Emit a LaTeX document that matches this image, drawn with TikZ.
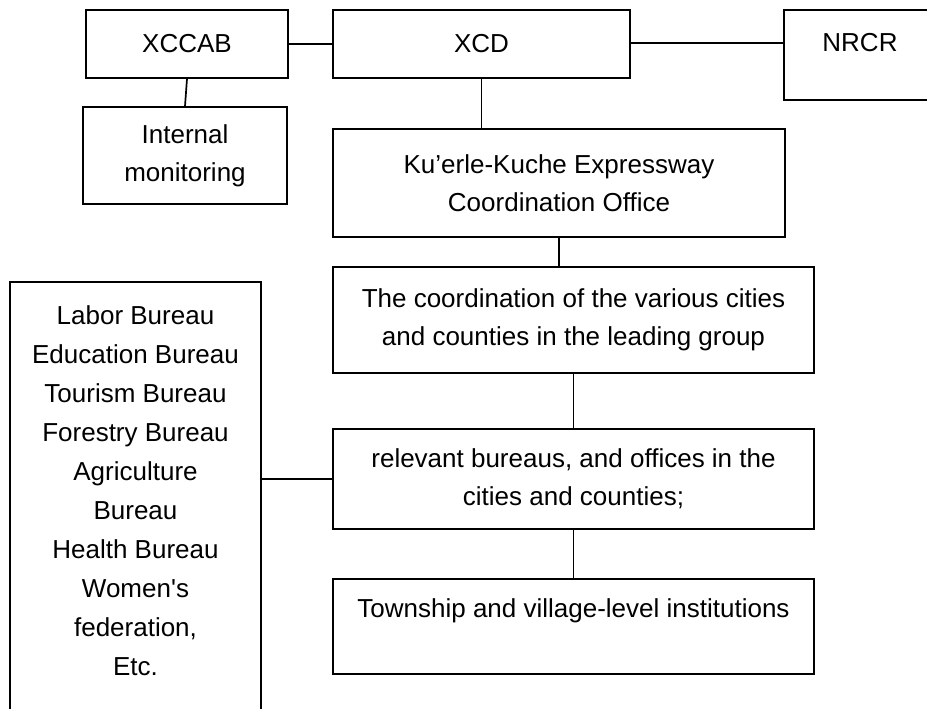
\documentclass[tikz,border=0pt]{standalone}
\usepackage{fontspec}
\newfontfamily\arialish{Liberation Sans}
\begin{document}
\begin{tikzpicture}[x=1pt,y=-1pt,
  box/.style={draw, line width=1.7pt, rectangle, align=center, inner sep=0pt,
    font=\arialish\fontsize{26}{38}\selectfont},
  txt/.style={align=center, inner sep=0pt, font=\arialish\fontsize{26}{39}\selectfont},
  link/.style={line width=1.7pt}]
\useasboundingbox (0,0) rectangle (927,709);
\clip (0,0) rectangle (927,709);
\node[box, minimum width=202pt, minimum height=68pt] (xccab) at (187,44) {XCCAB};
\node[box, minimum width=297pt, minimum height=68pt] (xcd) at (481.5,44) {XCD};
\node[box, minimum width=152pt, minimum height=90pt] (nrcr) at (860,55) {};
\node[txt] (nrcrtxt) at (860,43) {NRCR};
\node[box, minimum width=204pt, minimum height=97pt] (internal) at (185,155.5) {Internal\\monitoring};
\node[box, minimum width=452pt, minimum height=108pt] (kuerle) at (559,183) {Ku’erle-Kuche Expressway\\Coordination Office};
\node[box, minimum width=481pt, minimum height=106pt] (coord) at (573.5,320) {The coordination of the various cities\\and counties in the leading group};
\node[box, minimum width=481pt, minimum height=100pt] (relevant) at (573.5,479) {relevant bureaus, and offices in the\\cities and counties;};
\node[box, minimum width=481pt, minimum height=95pt] (township) at (573.5,626.5) {Township and village-level institutions\\[-12pt]\strut};
\node[box, minimum width=251pt, minimum height=448pt] (left) at (135.5,506) {};
\node[txt] (lefttxt) at (135.5,491) {Labor Bureau\\Education Bureau\\Tourism Bureau\\Forestry Bureau\\Agriculture\\Bureau\\Health Bureau\\Women's\\federation,\\Etc.};
\draw[link] (xccab.east) -- (xccab.east -| xcd.west);
\draw[link] (xcd.east |- 0,43) -- (nrcr.west |- 0,43);
\draw[link] (xccab.south) -- (internal.north);
\draw[link] (xcd.south) -- (xcd.south |- kuerle.north);
\draw[link] (kuerle.south) -- (kuerle.south |- coord.north);
\draw[link] (coord.south) -- (relevant.north);
\draw[link] (relevant.south) -- (township.north);
\draw[link] (relevant.west -| left.east) -- (relevant.west);
\end{tikzpicture}
\end{document}
